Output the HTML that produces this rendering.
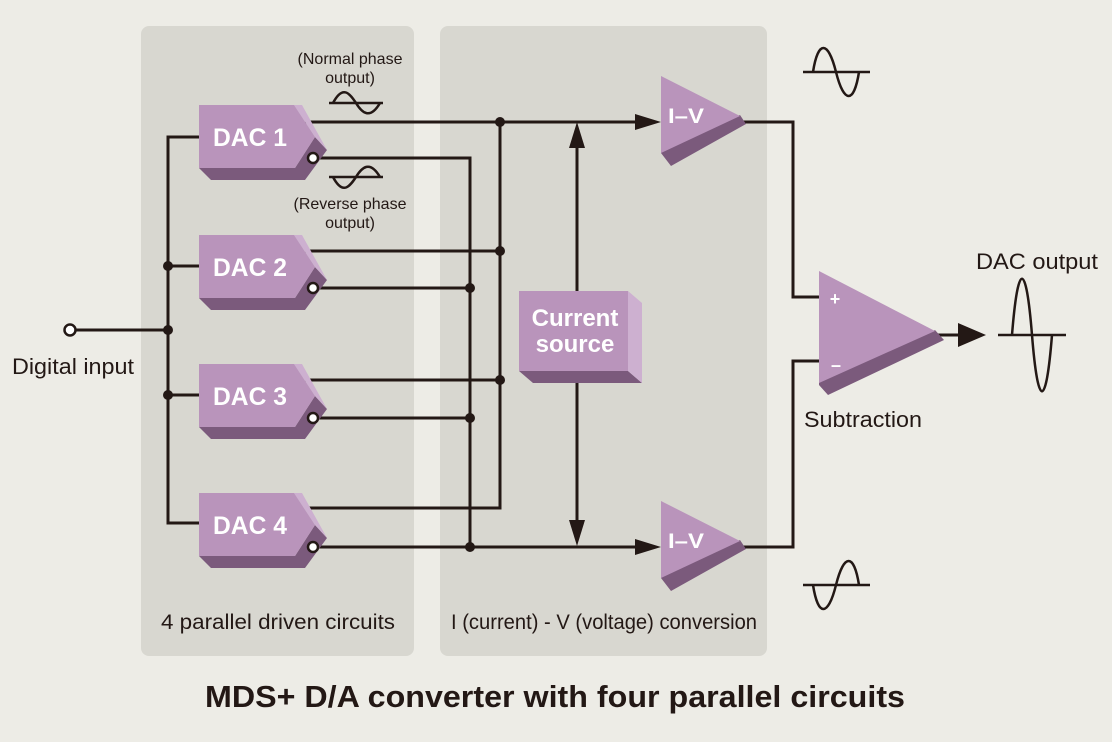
<!DOCTYPE html>
<html><head><style>
body{margin:0;background:#edece6;}
svg{display:block;font-family:"Liberation Sans",Arial,sans-serif;}
</style></head><body>
<svg width="1112" height="742" viewBox="0 0 1112 742">
<rect width="1112" height="742" fill="#edece6"/>
<rect x="141" y="26" width="273" height="630" rx="8" fill="#d8d7d0"/>
<rect x="440" y="26" width="327" height="630" rx="8" fill="#d8d7d0"/>
<defs>
<g id="dac">
<polygon points="199,168 295,168 315,137 327,150 305,180 211,180" fill="#7b5a7c"/>
<polygon points="294,105 302,105 327,150 315,137" fill="#cdb0d0"/>
<polygon points="199,105 294,105 315,137 295,168 199,168" fill="#b994bb"/>
</g>
<g id="iv">
<polygon points="661,76 661,143 740,115 746,124 671,166 661,153" fill="#7b5a7c"/>
<polygon points="661,76 740,116 661,153" fill="#b994bb"/>
</g>
</defs>
<g fill="none" stroke="#231815" stroke-width="3">
<line x1="75" y1="330" x2="168" y2="330"/>
<polyline points="199,137 168,137 168,523 199,523"/>
<line x1="168" y1="266" x2="199" y2="266"/>
<line x1="168" y1="395" x2="199" y2="395"/>
<line x1="305" y1="122" x2="640" y2="122"/>
<polyline points="313,158 470,158 470,547"/>
<line x1="305" y1="251" x2="500" y2="251"/>
<line x1="313" y1="288" x2="470" y2="288"/>
<line x1="305" y1="380" x2="500" y2="380"/>
<line x1="313" y1="418" x2="470" y2="418"/>
<polyline points="305,508 500,508 500,122"/>
<line x1="313" y1="547" x2="640" y2="547"/>
<polyline points="742,122 793,122 793,297 819,297"/>
<polyline points="742,547 793,547 793,361 819,361"/>
<line x1="930" y1="335" x2="962" y2="335"/>
</g>
<use href="#dac"/>
<use href="#dac" transform="translate(0,130)"/>
<use href="#dac" transform="translate(0,259)"/>
<use href="#dac" transform="translate(0,388)"/>
<use href="#iv"/>
<use href="#iv" transform="translate(0,425)"/>
<polygon points="519,371 628,371 642,383 533,383" fill="#7b5a7c"/>
<polygon points="628,291 642,303 642,383 628,371" fill="#cdb0d0"/>
<rect x="519" y="291" width="109" height="80" fill="#b994bb"/>
<line x1="577" y1="291" x2="577" y2="140" stroke="#231815" stroke-width="3"/>
<line x1="577" y1="383" x2="577" y2="530" stroke="#231815" stroke-width="3"/>
<polygon points="819,271 819,380 935,330 944,340 828,395 819,385" fill="#7b5a7c"/>
<polygon points="819,271 935,331 819,383" fill="#b994bb"/>
<g fill="#231815">
<polygon points="635,114 661,122 635,130"/>
<polygon points="635,539 661,547 635,555"/>
<polygon points="569,148 577,122 585,148"/>
<polygon points="569,520 577,546 585,520"/>
<polygon points="958,323 986,335 958,347"/>
<circle cx="168" cy="266" r="5"/><circle cx="168" cy="330" r="5"/><circle cx="168" cy="395" r="5"/>
<circle cx="500" cy="122" r="5"/><circle cx="500" cy="251" r="5"/><circle cx="500" cy="380" r="5"/>
<circle cx="470" cy="288" r="5"/><circle cx="470" cy="418" r="5"/><circle cx="470" cy="547" r="5"/>
</g>
<g fill="#fff" stroke="#231815" stroke-width="2.5">
<circle cx="70" cy="330" r="5.5"/>
<circle cx="313" cy="158" r="5"/><circle cx="313" cy="288" r="5"/><circle cx="313" cy="418" r="5"/><circle cx="313" cy="547" r="5"/>
</g>
<g fill="none" stroke="#231815" stroke-width="2.5">
<line x1="329" y1="103" x2="383" y2="103"/>
<path d="M333,103 C343,84 350,94 356,103 C362,113 370,120 380,103"/>
<line x1="329" y1="177" x2="383" y2="177"/>
<path d="M333,177 C343,196 350,186 356,177 C362,167 370,160 380,177"/>
<line x1="803" y1="72" x2="870" y2="72"/>
<path d="M813,72 C818,40 828,40 836,72 C844,104 854,104 859,72"/>
<line x1="803" y1="585" x2="870" y2="585"/>
<path d="M813,585 C818,617 828,617 836,585 C844,553 854,553 859,585"/>
<line x1="998" y1="335" x2="1066" y2="335"/>
<path d="M1012,335 C1018,260 1026,260 1032,335 C1038,410 1046,410 1052,335"/>
</g>
<g fill="#fff" font-weight="bold">
<text x="213" y="146" font-size="25" textLength="74" lengthAdjust="spacingAndGlyphs">DAC 1</text>
<text x="213" y="276" font-size="25" textLength="74" lengthAdjust="spacingAndGlyphs">DAC 2</text>
<text x="213" y="405" font-size="25" textLength="74" lengthAdjust="spacingAndGlyphs">DAC 3</text>
<text x="213" y="534" font-size="25" textLength="74" lengthAdjust="spacingAndGlyphs">DAC 4</text>
<text x="668" y="123" font-size="21" textLength="36" lengthAdjust="spacingAndGlyphs">I–V</text>
<text x="668" y="548" font-size="21" textLength="36" lengthAdjust="spacingAndGlyphs">I–V</text>
<text x="575" y="326" font-size="24" text-anchor="middle">Current</text>
<text x="575" y="352" font-size="24" text-anchor="middle">source</text>
<text x="835" y="305" font-size="18" text-anchor="middle">+</text>
<text x="836" y="371" font-size="18" text-anchor="middle">–</text>
</g>
<g fill="#231815">
<text x="350" y="64" font-size="16" text-anchor="middle">(Normal phase</text>
<text x="350" y="83" font-size="16" text-anchor="middle">output)</text>
<text x="350" y="209" font-size="16" text-anchor="middle">(Reverse phase</text>
<text x="350" y="228" font-size="16" text-anchor="middle">output)</text>
<text x="12" y="374" font-size="22" textLength="122" lengthAdjust="spacingAndGlyphs">Digital input</text>
<text x="976" y="269" font-size="22" textLength="122" lengthAdjust="spacingAndGlyphs">DAC output</text>
<text x="804" y="427" font-size="22" textLength="118" lengthAdjust="spacingAndGlyphs">Subtraction</text>
<text x="161" y="629" font-size="21" textLength="234" lengthAdjust="spacingAndGlyphs">4 parallel driven circuits</text>
<text x="451" y="629" font-size="21" textLength="306" lengthAdjust="spacingAndGlyphs">I (current) - V (voltage) conversion</text>
<text x="205" y="707" font-size="31" font-weight="bold" textLength="700" lengthAdjust="spacingAndGlyphs">MDS+ D/A converter with four parallel circuits</text>
</g>
</svg>
</body></html>
